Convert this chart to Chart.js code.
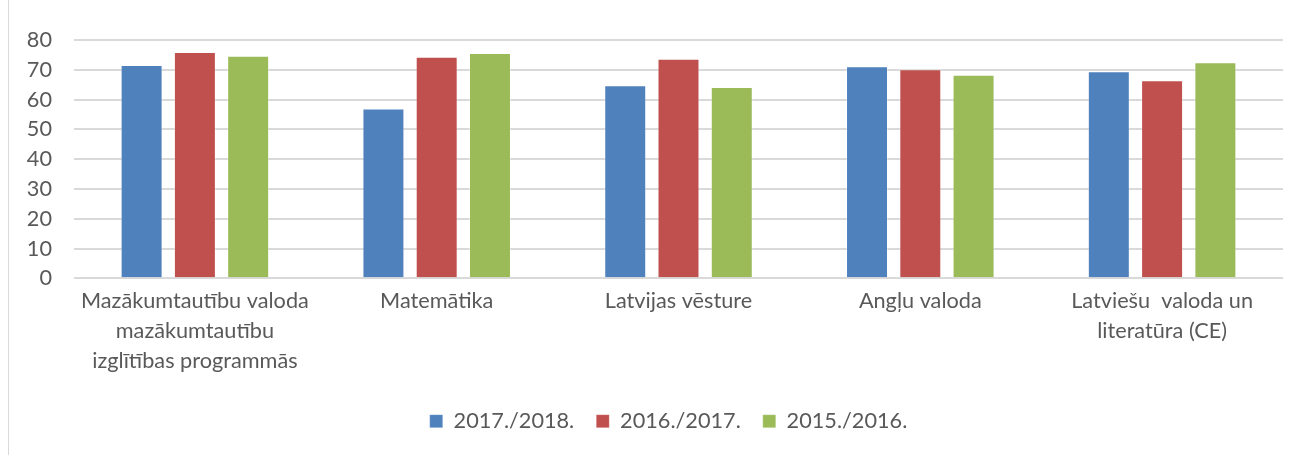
<!DOCTYPE html>
<html>
<head>
<meta charset="utf-8">
<script src="https://cdn.jsdelivr.net/npm/chart.js@4.4.1/dist/chart.umd.min.js"></script>
<style>
html,body{margin:0;padding:0;background:#fff;}
#wrap{position:relative;width:1303px;height:455px;overflow:hidden;background:#fff;}
#frame{position:absolute;left:8px;top:0;width:1400px;height:500px;border-left:1.5px solid #d9d9d9;box-sizing:border-box;}
canvas{position:absolute;left:0;top:0;}
</style>
</head>
<body>
<div id="wrap"><div id="frame"></div><canvas id="c" width="1303" height="455"></canvas></div>
<script>
const categories = [
  ["Mazākumtautību valoda", "mazākumtautību", "izglītības programmās"],
  ["Matemātika"],
  ["Latvijas vēsture"],
  ["Angļu valoda"],
  ["Latviešu  valoda un", "literatūra (CE)"]
];
const seriesNames = ["2017./2018.", "2016./2017.", "2015./2016."];
const values20172018 = [71.6, 57.0, 64.8, 71.2, 69.5];
const values20162017 = [76.0, 74.4, 73.7, 70.2, 66.5];
const values20152016 = [74.7, 75.6, 64.2, 68.3, 72.5];
const yTicks = [0, 10, 20, 30, 40, 50, 60, 70, 80];
const seriesColors = ["#4f81bd", "#c0504d", "#9bbb59"];

const FAMILY = 'Lato, "Open Sans", sans-serif';
const mctx = document.createElement('canvas').getContext('2d');
mctx.font = '100px ' + FAMILY;
const refW = mctx.measureText('Mazākumtautību valoda').width;
const FS = Math.round(100 * 228 / refW * 10) / 10;
const TEXT = '#595959';
const font = {family: FAMILY, size: FS};
const labelFont = {family: FAMILY, size: FS, lineHeight: 30 / FS};

const seriesValues = [values20172018, values20162017, values20152016];
const datasets = seriesNames.map((name, i) => ({
  label: name,
  data: seriesValues[i],
  backgroundColor: seriesColors[i],
  borderColor: 'rgba(255,255,255,0.35)',
  borderWidth: {left: 1, right: 1, top: 1, bottom: 0},
  borderSkipped: false,
  categoryPercentage: 0.661,
  barPercentage: 0.788
}));

// shift the legend row so it sits where the reference puts it
const legendShift = {
  id: 'legendShift',
  afterLayout(chart) {
    if (chart.legend) { chart.legend.left += 27; chart.legend.right += 27; }
  }
};

new Chart(document.getElementById('c'), {
  type: 'bar',
  data: {labels: categories, datasets},
  plugins: [legendShift],
  options: {
    responsive: false,
    animation: false,
    layout: {padding: {left: 0, right: 20, top: 40, bottom: 13}},
    plugins: {
      legend: {
        position: 'bottom',
        labels: {boxWidth: 13, boxHeight: 13, padding: 22, color: TEXT, font}
      },
      tooltip: {enabled: false}
    },
    scales: {
      x: {
        grid: {display: false, drawTicks: false},
        border: {display: false},
        ticks: {padding: 8, color: TEXT, font: labelFont, maxRotation: 0, minRotation: 0, autoSkip: false},
        afterFit(s) { s.height = 110; }
      },
      y: {
        min: 0, max: 80,
        afterBuildTicks(s) { s.ticks = yTicks.map(v => ({value: v})); },
        ticks: {padding: 22, color: TEXT, font},
        grid: {color: '#d9d9d9', lineWidth: 2, drawTicks: false},
        border: {display: false},
        afterFit(s) { s.width = 74; }
      }
    }
  }
});
</script>
</body>
</html>
